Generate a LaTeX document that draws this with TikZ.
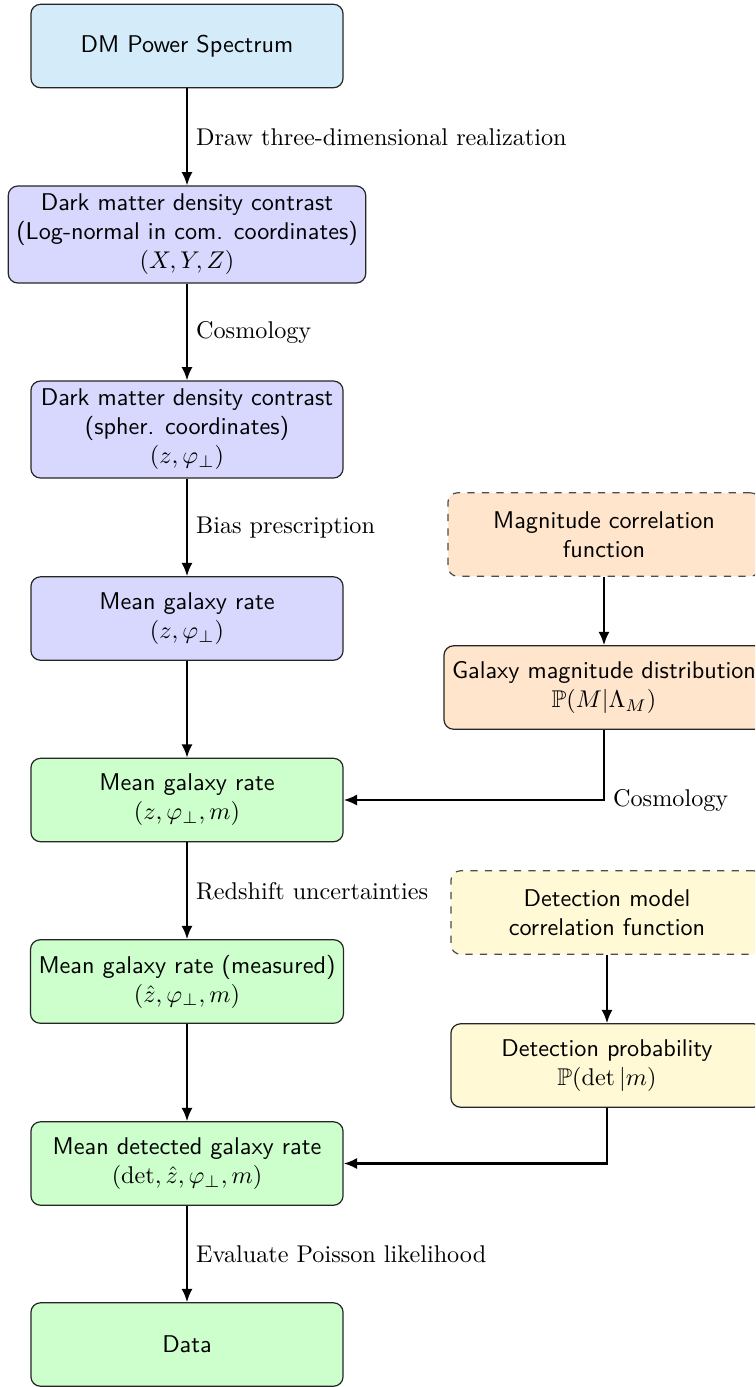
\documentclass[tikz,border=0pt]{standalone}
\usepackage{amsmath,amssymb}
\usetikzlibrary{arrows.meta}
\definecolor{dmblue}{RGB}{212,236,249}
\definecolor{lav}{RGB}{216,216,255}
\definecolor{grn}{RGB}{204,255,204}
\definecolor{org}{RGB}{255,229,204}
\definecolor{ylw}{RGB}{255,249,214}
\begin{document}
\begin{tikzpicture}[x=0.4132pt,y=-0.4132pt,
  box/.style={draw=black!85, line width=0.5pt, rounded corners=4pt, align=center,
    font=\sffamily, minimum width=129pt, minimum height=34.5pt},
  dbox/.style={box, dashed, draw=black!70},
  arr/.style={-{Latex[length=5.5pt,width=4.6pt]}, line width=0.9pt},
  lab/.style={right, font=\rmfamily}]
\clip (0,0) rectangle (755,1387);
% main column
\node[box, fill=dmblue] (dm) at (187,46) {DM Power Spectrum};
\node[box, fill=lav] (d1) at (187,234.5) {Dark matter density contrast\\(Log-normal in com. coordinates)\\$(X,Y,Z)$};
\node[box, fill=lav] (d2) at (187,429.5) {Dark matter density contrast\\(spher. coordinates)\\$(z,\varphi_\perp)$};
\node[box, fill=lav] (r1) at (187,618.5) {Mean galaxy rate\\$(z,\varphi_\perp)$};
\node[box, fill=grn] (r2) at (187,800) {Mean galaxy rate\\$(z,\varphi_\perp,m)$};
\node[box, fill=grn] (r3) at (187,981.5) {Mean galaxy rate (measured)\\$(\hat{z},\varphi_\perp,m)$};
\node[box, fill=grn] (r4) at (187,1163.5) {Mean detected galaxy rate\\$(\det,\hat{z},\varphi_\perp,m)$};
\node[box, fill=grn] (data) at (187,1344.5) {Data};
% right column
\node[dbox, fill=org] (mc) at (604,534.5) {Magnitude correlation\\function};
\node[box, fill=org] (md) at (604,687.5) {Galaxy magnitude distribution\\$\mathbb{P}(M|\Lambda_M)$};
\node[dbox, fill=ylw] (dc) at (607,912.5) {Detection model\\correlation function};
\node[box, fill=ylw] (dp) at (607,1065.5) {Detection probability\\$\mathbb{P}(\det|m)$};
% connectors
\draw[arr] (dm) -- node[lab]{Draw three-dimensional realization} (d1);
\draw[arr] (d1) -- node[lab]{Cosmology} (d2);
\draw[arr] (d2) -- node[lab]{Bias prescription} (r1);
\draw[arr] (r1) -- (r2);
\draw[arr] (r2) -- node[lab]{Redshift uncertainties} (r3);
\draw[arr] (r3) -- (r4);
\draw[arr] (r4) -- node[lab]{Evaluate Poisson likelihood} (data);
\draw[arr] (mc) -- (md);
\draw[arr] (md) |- node[lab, pos=0.5]{Cosmology} (r2);
\draw[arr] (dc) -- (dp);
\draw[arr] (dp) |- (r4);
\end{tikzpicture}
\end{document}
